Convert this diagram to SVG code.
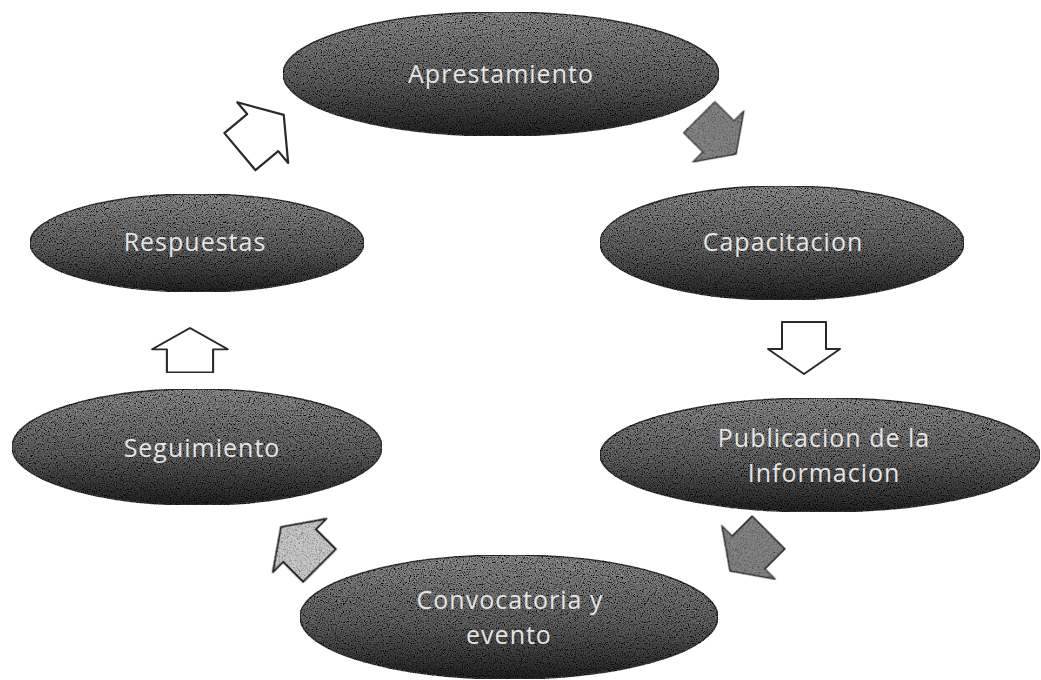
<svg xmlns="http://www.w3.org/2000/svg" width="1041" height="680" viewBox="0 0 1041 680">
  <defs>
    <linearGradient id="g" x1="0" y1="0" x2="0" y2="1">
      <stop offset="0" stop-color="#9a9a9a"/>
      <stop offset="0.55" stop-color="#6a6a6a"/>
      <stop offset="1" stop-color="#262626"/>
    </linearGradient>
    <filter id="grain" x="0" y="0" width="100%" height="100%">
      <feTurbulence type="fractalNoise" baseFrequency="0.85" numOctaves="2" seed="4" result="n"/>
      <feColorMatrix in="n" type="matrix" values="1.4 1.4 1.4 0 -1.5  1.4 1.4 1.4 0 -1.5  1.4 1.4 1.4 0 -1.5  0 0 0 0 1" result="m"/>
      <feComposite in="m" in2="SourceGraphic" operator="in" result="c"/>
      <feBlend in="c" in2="SourceGraphic" mode="multiply"/>
    </filter>
    <filter id="grain2" x="-10%" y="-10%" width="120%" height="120%">
      <feTurbulence type="fractalNoise" baseFrequency="0.9" numOctaves="2" seed="9" result="n"/>
      <feColorMatrix in="n" type="matrix" values="1.2 1.2 1.2 0 -1.0  1.2 1.2 1.2 0 -1.0  1.2 1.2 1.2 0 -1.0  0 0 0 0 1" result="m"/>
      <feComposite in="m" in2="SourceGraphic" operator="in" result="c"/>
      <feBlend in="c" in2="SourceGraphic" mode="multiply"/>
    </filter>
    <path id="arr" d="M-25,-22 L2,-22 L2,-36 L27,0 L2,36 L2,22 L-25,22 Z"/>
  </defs>
  <style>
    .node ellipse { fill: url(#g); stroke: #3a3a3a; stroke-width: 1.5; filter: url(#grain); }
    .node text { font-family: "Open Sans", "DejaVu Sans", sans-serif; font-size: 25px; letter-spacing: 1px; fill: #e4e4e4; text-anchor: middle; }
    .a-white { fill: #ffffff; stroke: #2a2a2a; stroke-width: 2; stroke-linejoin: round; }
    .a-gray { fill: #8a8a8a; stroke: #3a3a3a; stroke-width: 1.5; stroke-linejoin: round; filter: url(#grain2); }
    .a-light { fill: #d2d2d2; stroke: #2a2a2a; stroke-width: 2; stroke-linejoin: round; filter: url(#grain2); }
  </style>
  <rect width="1041" height="680" fill="#ffffff"/>

  <g id="connectors">
    <use href="#arr" class="a-white" transform="translate(261,134) rotate(-40) scale(1.1)"/>
    <use href="#arr" class="a-gray" transform="translate(717,135) rotate(45) scale(1.0)"/>
    <use href="#arr" class="a-white" transform="translate(804,347) rotate(90)"/>
    <use href="#arr" class="a-gray" transform="translate(750,551) rotate(135) scale(1.05)"/>
    <use href="#arr" class="a-light" transform="translate(301,547) rotate(-135) scale(1.05)"/>
    <use href="#arr" class="a-white" transform="translate(190,351) rotate(-90) scale(0.85,1.05)"/>
  </g>

  <g id="node-apres" class="node">
    <ellipse cx="501" cy="74" rx="218" ry="62"/>
    <text x="501" y="83">Aprestamiento</text>
  </g>
  <g id="node-capac" class="node">
    <ellipse cx="782" cy="243" rx="182" ry="57"/>
    <text x="783" y="251">Capacitacion</text>
  </g>
  <g id="node-public" class="node">
    <ellipse cx="820" cy="455" rx="220" ry="57"/>
    <text x="824" y="447">Publicacion de la</text>
    <text x="824" y="482">Informacion</text>
  </g>
  <g id="node-convoc" class="node">
    <ellipse cx="509" cy="617" rx="209" ry="62"/>
    <text x="510" y="609">Convocatoria y</text>
    <text x="509" y="644">evento</text>
  </g>
  <g id="node-seguim" class="node">
    <ellipse cx="197" cy="447" rx="185" ry="58"/>
    <text x="202" y="457">Seguimiento</text>
  </g>
  <g id="node-resp" class="node">
    <ellipse cx="197" cy="243" rx="167" ry="49"/>
    <text x="195" y="251">Respuestas</text>
  </g>
</svg>
